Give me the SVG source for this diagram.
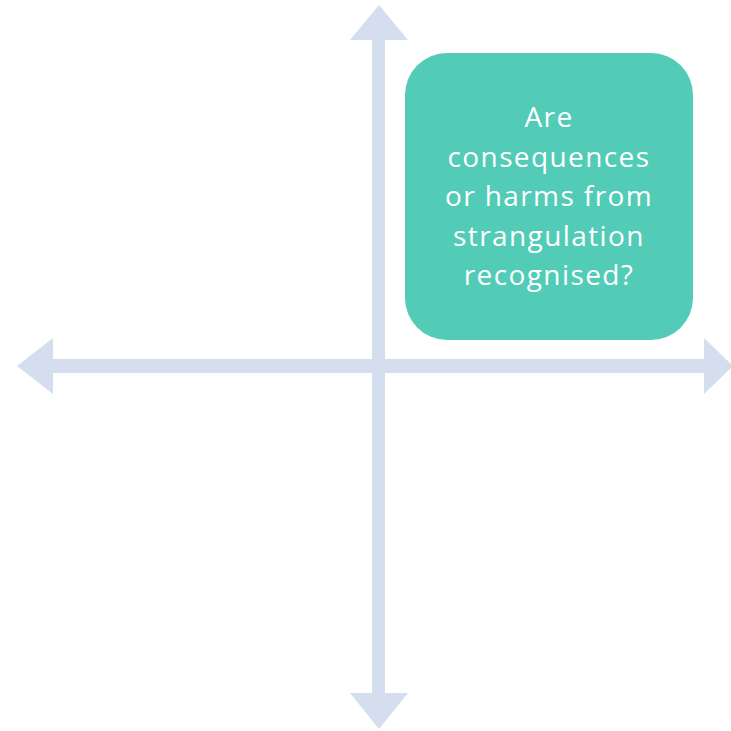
<svg xmlns="http://www.w3.org/2000/svg" width="731" height="731" viewBox="0 0 731 731">
<style>
.ax{fill:#D5DEEF}
.box{fill:#52CBB7}
.lbl{font-family:"Open Sans","Liberation Sans",sans-serif;font-size:28px;letter-spacing:1.4px;fill:#FFFFFF;text-anchor:middle}
</style>
<rect width="731" height="731" fill="#FFFFFF"/>
<g id="connectors">
<polygon class="ax" points="379,5 408,40 385,40 385,693 408,693 379,729 350,693 372,693 372,40 350,40"/>
<polygon class="ax" points="17,366 53,338 53,359 704,359 704,338 733,366 704,394 704,373 53,373 53,394"/>
</g>
<g id="node1">
<rect class="box" x="405" y="53" width="288" height="287" rx="42" ry="42"/>
<text class="lbl" x="549" y="127">Are</text>
<text class="lbl" x="549" y="167">consequences</text>
<text class="lbl" x="549" y="206">or harms from</text>
<text class="lbl" x="549" y="246">strangulation</text>
<text class="lbl" x="549" y="285">recognised?</text>
</g>
</svg>
